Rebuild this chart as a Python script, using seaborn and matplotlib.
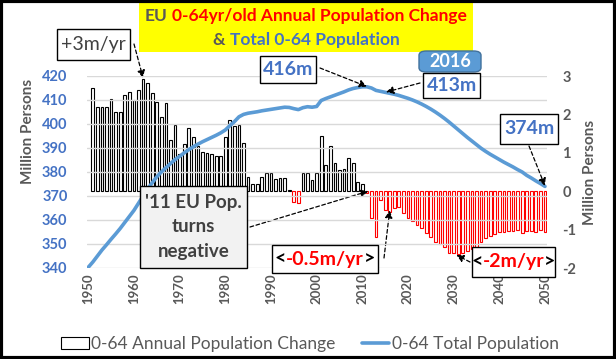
import numpy as np
import pandas as pd
import matplotlib
matplotlib.use("Agg")
import matplotlib.pyplot as plt
from matplotlib.patches import Rectangle, FancyBboxPatch, Patch
from matplotlib.lines import Line2D
import seaborn as sns

# ---- data ----
line_years = list(range(1950, 2051))
total_pop = [
    340.3, 342.5, 345.0, 347.5, 349.7, 352.0, 354.2, 356.5, 359.0, 361.5,
    364.0, 367.0, 370.0, 373.0, 375.5, 378.0, 380.0, 381.8, 383.5, 385.2,
    386.5, 388.0, 389.3, 390.5, 391.6, 392.6, 393.5, 394.4, 395.3, 396.3,
    397.5, 399.3, 401.0, 403.0, 404.0, 404.5, 404.8, 405.1, 405.5, 405.8,
    406.1, 406.4, 406.7, 407.0, 406.9, 406.4, 406.0, 406.8, 407.2, 407.0,
    407.3, 409.8, 410.6, 411.3, 412.0, 412.7, 413.4, 414.2, 414.8, 415.2,
    415.5, 415.5, 415.0, 414.0, 413.6, 413.2, 412.8, 412.4, 411.9, 411.3,
    410.7, 410.0, 409.2, 408.3, 407.3, 406.2, 405.0, 403.7, 402.3, 400.8,
    399.2, 397.6, 396.0, 394.4, 392.9, 391.4, 389.9, 388.6, 387.4, 386.3,
    385.2, 384.1, 383.1, 382.1, 381.0, 380.0, 378.6, 377.5, 376.3, 375.2,
    374.0,
]
bar_years = list(range(1951, 2051))
annual_change = [
    2.70, 2.18, 2.20, 2.20, 2.39, 2.05, 2.05, 2.50, 2.58, 2.37,
    2.63, 2.91, 2.81, 2.55, 2.33, 1.92, 2.29, 1.33, 1.73, 0.96,
    1.22, 1.64, 1.40, 1.18, 1.03, 0.99, 0.96, 0.92, 0.92, 1.42,
    1.85, 1.70, 1.72, 1.25, 0.38, 0.18, 0.19, 0.36, 0.47, 0.47,
    0.32, 0.35, 0.35, 0.02, -0.27, -0.30, 0.47, 0.48, 0.29, 0.48,
    1.44, 0.67, 1.18, 0.73, 0.55, 0.57, 0.87, 0.74, 0.25, 0.20,
    -0.04, -0.71, -1.19, -0.23, -0.49, -0.53, -0.45, -0.40, -0.56, -0.71,
    -0.77, -0.88, -0.97, -1.10, -1.19, -1.32, -1.38, -1.46, -1.60, -1.62,
    -1.64, -1.61, -1.55, -1.50, -1.45, -1.32, -1.23, -1.16, -1.11, -1.07,
    -1.05, -1.04, -1.04, -1.01, -1.10, -1.04, -1.03, -1.05, -1.01, -1.05,
]
left_ticks = [340, 350, 360, 370, 380, 390, 400, 410, 420]
right_ticks = [-2, -1, 0, 1, 2, 3]
x_ticks = list(range(1950, 2051, 10))

W, H = 616, 359
GRAY = "#595959"
BLUE_TXT = "#4472C4"
LINE_C = "#5B9BD5"
RED = "#FF0000"

sns.set_theme(style="white")
plt.rcParams["font.family"] = ["Lato", "DejaVu Sans"]

fig = plt.figure(figsize=(W / 100, H / 100), dpi=100)
fig.patch.set_facecolor("white")


def fx(x):
    return x / W


def fy(y):
    return 1 - y / H


ax = fig.add_axes([fx(87), fy(268), (547 - 87) / W, (268 - 76) / H])
ax2 = ax.twinx()

# bars on the right axis (drawn below the line)
bar_df = pd.DataFrame({"year": bar_years, "chg": annual_change})
sns.barplot(data=bar_df, x="year", y="chg", native_scale=True, width=0.6,
            color="white", edgecolor="black", linewidth=0.8, ax=ax2)
for p, v in zip(ax2.patches, annual_change):
    p.set_facecolor("white")
    p.set_edgecolor(RED if v < 0 else "black")

# line on the left axis
line_df = pd.DataFrame({"year": line_years, "pop": total_pop})
sns.lineplot(data=line_df, x="year", y="pop", color=LINE_C, linewidth=2.6, ax=ax)

ax.set_zorder(ax2.get_zorder() + 1)
ax.patch.set_visible(False)

ax.set_xlim(1949.72, 2050.44)
ax.set_ylim(340, 420)
ax2.set_ylim(-2, 3)

ax.yaxis.grid(True, color="#D9D9D9", linewidth=1)
ax.set_xticks(x_ticks)
ax.set_xticklabels([str(t) for t in x_ticks], rotation=90, color=GRAY,
                   fontsize=9.5, fontweight="bold")
ax.set_yticks(left_ticks)
ax.set_yticklabels([str(t) for t in left_ticks], color=BLUE_TXT,
                   fontsize=10.5, fontweight="bold")
ax2.set_yticks(right_ticks)
ax2.set_yticklabels([str(t) for t in right_ticks], color=GRAY,
                    fontsize=10.5, fontweight="bold")
ax.tick_params(axis="x", length=0, pad=4)
ax.yaxis.set_tick_params(which="major", length=0, pad=14)
ax2.yaxis.set_tick_params(which="major", length=0, pad=11)
for t in ax.yaxis.get_major_ticks():
    t.set_pad(14)
ax.set_xlabel("")
ax2.set_xlabel("")
ax.set_ylabel("Million Persons", color=GRAY, fontsize=11, fontweight="bold")
ax2.set_ylabel("Million Persons", color=GRAY, fontsize=11, fontweight="bold")
ax.yaxis.set_label_coords((35 - 87) / 460, (268 - 131) / 192)
ax2.yaxis.set_label_coords((583 - 87) / 460, 0.5)
for a in (ax, ax2):
    for s in a.spines.values():
        s.set_visible(False)

# ---- helpers for boxes and multi-colour text ----
renderer = fig.canvas.get_renderer()


def box(x0, y0, x1, y1, fc="white", ec="black", lw=1.0):
    fig.patches.append(Rectangle((fx(x0), fy(y1)), (x1 - x0) / W, (y1 - y0) / H,
                                 transform=fig.transFigure, facecolor=fc,
                                 edgecolor=ec, linewidth=lw, zorder=5))


def color_text(xc, yc, parts, size, weight="normal"):
    t1 = fig.text(0, 0, "a a", fontsize=size, fontweight=weight)
    t2 = fig.text(0, 0, "aa", fontsize=size, fontweight=weight)
    space = t1.get_window_extent(renderer).width - t2.get_window_extent(renderer).width
    t1.remove()
    t2.remove()
    items = []
    for s, c in parts:
        if s == " ":
            items.append((None, space))
            continue
        t = fig.text(0, 0, s, color=c, fontsize=size, fontweight=weight,
                     va="center", ha="left", zorder=6)
        items.append((t, t.get_window_extent(renderer).width))
    total = sum(w for _, w in items)
    x = xc - total / 2
    for t, w in items:
        if t is not None:
            t.set_position((fx(x), fy(yc)))
        x += w


def arrow(xy, axes, start):
    axes.annotate("", xy=xy, xycoords="data",
                  xytext=(start[0], H - start[1]), textcoords="figure pixels",
                  arrowprops=dict(arrowstyle="-|>", color="black", lw=0.9,
                                  linestyle=(0, (3, 2)), mutation_scale=11,
                                  shrinkA=0, shrinkB=0),
                  annotation_clip=False, zorder=7)


# title block
box(139, 0, 473, 52, fc="#FFFF00", ec="#FFFF00", lw=0)
color_text(306, 16, [("EU", GRAY), (" ", None),
                     ("0-64yr/old Annual Population Change", RED)], 12.5, "bold")
color_text(306, 40, [("&", GRAY), (" ", None),
                     ("Total 0-64 Population", BLUE_TXT)], 12.5, "bold")

# annotations
box(57, 29, 130, 60)
fig.text(fx(93.5), fy(44.5), "+3m/yr", color="#404040", fontsize=14,
         ha="center", va="center", zorder=6)
arrow((1962, 2.95), ax2, (134, 44))

box(260, 56, 316, 83)
fig.text(fx(288), fy(69.5), "416m", color=BLUE_TXT, fontsize=14, fontweight="bold",
         ha="center", va="center", zorder=6)
arrow((2011, 415.6), ax, (320, 68))

fig.patches.append(FancyBboxPatch((fx(419), fy(72)), (481 - 419) / W, (72 - 51) / H,
                                  boxstyle="round,pad=0,rounding_size=0.012",
                                  transform=fig.transFigure, facecolor=LINE_C,
                                  edgecolor="#41719C", linewidth=1, zorder=5))
fig.text(fx(450), fy(61.5), "2016", color="white", fontsize=13, fontweight="bold",
         ha="center", va="center", zorder=6)
box(423, 73, 480, 98)
fig.text(fx(451.5), fy(85.5), "413m", color=BLUE_TXT, fontsize=14, fontweight="bold",
         ha="center", va="center", zorder=6)
arrow((2015.2, 413.3), ax, (420, 83))

box(500, 114, 558, 144)
fig.text(fx(529), fy(129), "374m", color=BLUE_TXT, fontsize=14, fontweight="bold",
         ha="center", va="center", zorder=6)
arrow((2050, 374.2), ax, (529, 146))

box(140, 186, 247, 268, fc="#F2F2F2")
fig.text(fx(193.5), fy(227), "'11 EU Pop.\nturns\nnegative", color="#404040",
         fontsize=13.5, fontweight="bold", ha="center", va="center",
         linespacing=1.55, zorder=6)
arrow((2011.3, 0.0), ax2, (250, 227))

box(272, 245, 378, 273)
color_text(325, 259, [("<", "black"), ("-0.5m/yr", RED), (">", "black")], 14, "bold")
arrow((2016, -0.50), ax2, (384, 258))

box(472, 247, 555, 277)
color_text(513.5, 262, [("<", "black"), ("-2m/yr", RED), (">", "black")], 14, "bold")
arrow((2030.6, -1.66), ax2, (470, 262))

# legend
handles = [Patch(facecolor="white", edgecolor="black", linewidth=0.8),
           Line2D([0], [0], color=LINE_C, linewidth=2.6)]
fig.legend(handles, ["0-64 Annual Population Change", "0-64 Total Population"],
           loc="center", bbox_to_anchor=(fx(310), fy(344)), ncol=2, frameon=False,
           fontsize=12.5, handlelength=1.6, handletextpad=0.15, columnspacing=1.5,
           labelcolor=GRAY)

# outer frame
fig.patches.append(Rectangle((0.002, 0.003), 0.996, 0.994, transform=fig.transFigure,
                             fill=False, edgecolor="black", linewidth=3, zorder=10))

fig.savefig("out.png", dpi=100)
